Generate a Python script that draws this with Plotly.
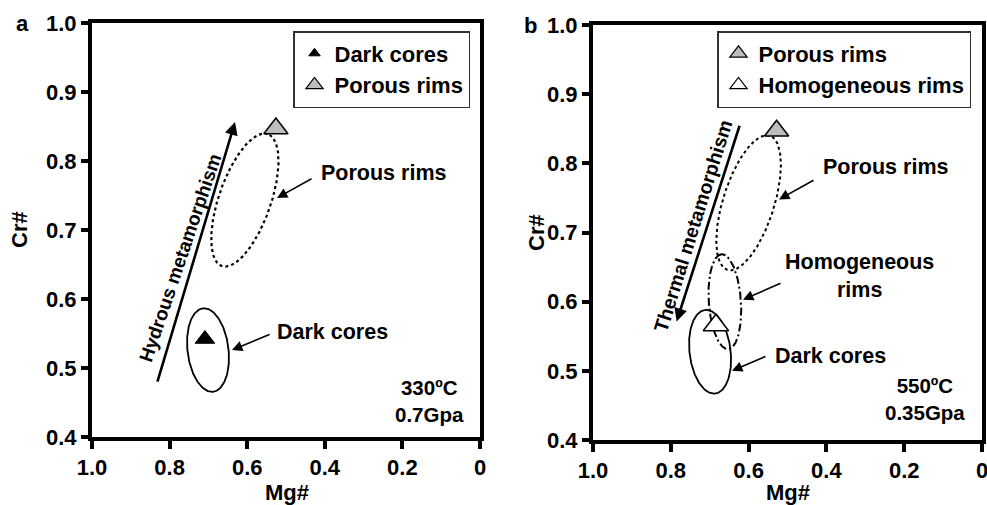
import numpy as np
import plotly.graph_objects as go

W, H = 987, 505
FONT = "Liberation Sans, Arial, Helvetica, sans-serif"

# ---------------- data ----------------
x_ticks = [1.0, 0.8, 0.6, 0.4, 0.2, 0.0]
x_ticklabels = ["1.0", "0.8", "0.6", "0.4", "0.2", "0"]
y_ticks = [0.4, 0.5, 0.6, 0.7, 0.8, 0.9, 1.0]
y_ticklabels = ["0.4", "0.5", "0.6", "0.7", "0.8", "0.9", "1.0"]

# panel a points (Mg#, Cr#)
a_dark_mg = [0.709]
a_dark_cr = [0.542]
a_porous_mg = [0.526]
a_porous_cr = [0.847]

# panel b points
b_porous_mg = [0.528]
b_porous_cr = [0.847]
b_homog_mg = [0.684]
b_homog_cr = [0.566]

# compositional fields (ellipses): centre Mg#, centre Cr#, semi-axes (Cr# units), tilt (deg)
a_field_names = ["Porous rims", "Dark cores"]
a_field_mg = [0.606, 0.701]
a_field_cr = [0.7435, 0.526]
a_field_a = [0.1013, 0.0609]
a_field_b = [0.0377, 0.0297]
a_field_tilt = [70.8, 97.0]
a_field_dash = ["dot", "solid"]

b_field_names = ["Porous rims", "Homogeneous rims", "Dark cores"]
b_field_mg = [0.600, 0.661, 0.699]
b_field_cr = [0.743, 0.600, 0.5275]
b_field_a = [0.1017, 0.0688, 0.0609]
b_field_b = [0.037, 0.0232, 0.0297]
b_field_tilt = [72.5, 94.0, 97.0]
b_field_dash = ["dot", "8px,3px,2px,3px", "solid"]

# metamorphism arrows: tail (Mg#, Cr#) -> head (Mg#, Cr#)
a_trend_tail = [0.8325, 0.478]
a_trend_head = [0.6314, 0.8565]
a_trend_label = "Hydrous metamorphism"
a_trend_label_pos = [0.772, 0.660]
b_trend_tail = [0.622, 0.8565]
b_trend_head = [0.785, 0.5714]
b_trend_label = "Thermal metamorphism"
b_trend_label_pos = [0.744, 0.710]

# labelled callouts: text, text pos, arrow tail, arrow head
a_callout_text = ["Porous rims", "Dark cores"]
a_callout_pos = [[0.250, 0.7826], [0.379, 0.552]]
a_callout_tail = [[0.4304, 0.7754], [0.5387, 0.5493]]
a_callout_head = [[0.5232, 0.7464], [0.6392, 0.526]]

b_callout_text = ["Porous rims", "Homogeneous<br>rims", "Dark cores"]
b_callout_pos = [[0.2468, 0.7942], [0.3162, 0.637], [0.3907, 0.5217]]
b_callout_tail = [[0.4293, 0.7768], [0.5141, 0.6275], [0.5527, 0.5217]]
b_callout_head = [[0.5218, 0.7478], [0.6144, 0.6029], [0.6427, 0.500]]

a_condition = "330ºC<br>0.7Gpa"
a_condition_pos = [0.129, 0.452]
b_condition = "550ºC<br>0.35Gpa"
b_condition_pos = [0.1465, 0.4587]

# ---------------- layout geometry ----------------
XA = [92 / W, 480 / W]
YA = [1 - 437 / H, 1 - 23 / H]
XB = [593 / W, 982 / W]
YB = [1 - 440 / H, 1 - 25 / H]


def aspect(xd, yd):
    px_mg = (xd[1] - xd[0]) * W / 1.0
    px_cr = (yd[1] - yd[0]) * H / 0.6
    return px_cr / px_mg


def ellipse(cmg, ccr, a, b, tilt, k):
    t = np.linspace(0, 2 * np.pi, 240)
    th = np.radians(tilt)
    dX = a * np.cos(t) * np.cos(th) - b * np.sin(t) * np.sin(th)
    dY = a * np.cos(t) * np.sin(th) + b * np.sin(t) * np.cos(th)
    return cmg - dX * k, ccr + dY


fig = go.Figure()

GRAY = "#bdbdbd"

# ----- fields -----
ka = aspect(XA, YA)
for i in range(len(a_field_names)):
    ex, ey = ellipse(a_field_mg[i], a_field_cr[i], a_field_a[i], a_field_b[i], a_field_tilt[i], ka)
    fig.add_trace(go.Scatter(x=ex, y=ey, mode="lines", showlegend=False, hoverinfo="skip",
                             line=dict(color="black", width=1.8 if a_field_dash[i] == "solid" else 2.2,
                                       dash=a_field_dash[i]),
                             xaxis="x", yaxis="y"))

kb = aspect(XB, YB)
for i in range(len(b_field_names)):
    ex, ey = ellipse(b_field_mg[i], b_field_cr[i], b_field_a[i], b_field_b[i], b_field_tilt[i], kb)
    fig.add_trace(go.Scatter(x=ex, y=ey, mode="lines", showlegend=False, hoverinfo="skip",
                             line=dict(color="black", width=1.8 if b_field_dash[i] == "solid" else 2.0,
                                       dash=b_field_dash[i]),
                             xaxis="x2", yaxis="y2"))

# ----- points -----
fig.add_trace(go.Scatter(x=a_dark_mg, y=a_dark_cr, mode="markers", showlegend=False,
                         marker=dict(symbol="triangle-up", size=17, color="black",
                                     line=dict(color="black", width=1)),
                         xaxis="x", yaxis="y"))
fig.add_trace(go.Scatter(x=a_porous_mg, y=a_porous_cr, mode="markers", showlegend=False,
                         marker=dict(symbol="triangle-up", size=21, color=GRAY,
                                     line=dict(color="black", width=1.5)),
                         xaxis="x", yaxis="y"))
fig.add_trace(go.Scatter(x=b_porous_mg, y=b_porous_cr, mode="markers", showlegend=False,
                         marker=dict(symbol="triangle-up", size=21, color=GRAY,
                                     line=dict(color="black", width=1.5)),
                         xaxis="x2", yaxis="y2"))
fig.add_trace(go.Scatter(x=b_homog_mg, y=b_homog_cr, mode="markers", showlegend=False,
                         marker=dict(symbol="triangle-up", size=22, color="white",
                                     line=dict(color="black", width=1.5)),
                         xaxis="x2", yaxis="y2"))

# ----- legend entries -----
fig.add_trace(go.Scatter(x=[None], y=[None], mode="markers", name="Dark cores", legend="legend",
                         marker=dict(symbol="triangle-up", size=10, color="black",
                                     line=dict(color="black", width=1)),
                         xaxis="x", yaxis="y"))
fig.add_trace(go.Scatter(x=[None], y=[None], mode="markers", name="Porous rims", legend="legend",
                         marker=dict(symbol="triangle-up", size=15, color=GRAY,
                                     line=dict(color="black", width=1.2)),
                         xaxis="x", yaxis="y"))
fig.add_trace(go.Scatter(x=[None], y=[None], mode="markers", name="Porous rims", legend="legend2",
                         marker=dict(symbol="triangle-up", size=15, color=GRAY,
                                     line=dict(color="black", width=1.2)),
                         xaxis="x2", yaxis="y2"))
fig.add_trace(go.Scatter(x=[None], y=[None], mode="markers", name="Homogeneous rims", legend="legend2",
                         marker=dict(symbol="triangle-up", size=15, color="white",
                                     line=dict(color="black", width=1.2)),
                         xaxis="x2", yaxis="y2"))

# ----- annotations -----
ann = []


def add_text(text, pos, xr, yr, size=21, angle=0):
    ann.append(dict(text=text, x=pos[0], y=pos[1], xref=xr, yref=yr, showarrow=False,
                    textangle=angle, font=dict(size=size, color="black", family=FONT, weight="bold"),
                    xanchor="center", yanchor="middle"))


def add_arrow(tail, head, xr, yr, width=1.6, size=1.3):
    ann.append(dict(text="", x=head[0], y=head[1], ax=tail[0], ay=tail[1],
                    xref=xr, yref=yr, axref=xr, ayref=yr, showarrow=True,
                    arrowhead=2, arrowsize=size, arrowwidth=width, arrowcolor="black",
                    standoff=0, startstandoff=0))


# panel a
for i in range(len(a_callout_text)):
    add_text(a_callout_text[i], a_callout_pos[i], "x", "y", size=21.5)
    add_arrow(a_callout_tail[i], a_callout_head[i], "x", "y")
add_text(a_condition, a_condition_pos, "x", "y", size=20.5)
add_arrow(a_trend_tail, a_trend_head, "x", "y", width=2.6, size=1.0)
add_text(a_trend_label, a_trend_label_pos, "x", "y", size=19, angle=-71.2)

# panel b
for i in range(len(b_callout_text)):
    add_text(b_callout_text[i], b_callout_pos[i], "x2", "y2", size=21.5)
    add_arrow(b_callout_tail[i], b_callout_head[i], "x2", "y2")
add_text(b_condition, b_condition_pos, "x2", "y2", size=20.5)
add_arrow(b_trend_tail, b_trend_head, "x2", "y2", width=2.6, size=1.0)
add_text(b_trend_label, b_trend_label_pos, "x2", "y2", size=19.5, angle=-72.6)

# panel letters and axis titles
for txt, px, py, ang in [("a", 22, 23, 0), ("b", 530, 25, 0),
                         ("Cr#", 20, 230, -90), ("Cr#", 537, 233, -90),
                         ("Mg#", 287, 492, 0), ("Mg#", 788, 492, 0)]:
    ann.append(dict(text=txt, x=px / W, y=1 - py / H, xref="paper", yref="paper", showarrow=False,
                    textangle=ang, xanchor="center", yanchor="middle",
                    font=dict(size=22, color="black", family=FONT, weight="bold")))

xcommon = dict(range=[1.0, 0.0], tickmode="array", tickvals=x_ticks, ticktext=x_ticklabels,
               showline=True, linecolor="black", linewidth=4, mirror=True,
               ticks="outside", ticklen=8, tickwidth=3.5, tickcolor="black",
               showgrid=False, zeroline=False, automargin=False, ticklabeloverflow="allow",
               tickfont=dict(size=22, color="black", family=FONT, weight="bold"))
ycommon = dict(range=[0.4, 1.0], tickmode="array", tickvals=y_ticks, ticktext=y_ticklabels,
               showline=True, linecolor="black", linewidth=4, mirror=True,
               ticks="outside", ticklen=7, tickwidth=3.5, tickcolor="black",
               showgrid=False, zeroline=False, automargin=False, ticklabeloverflow="allow",
               tickfont=dict(size=22, color="black", family=FONT, weight="bold"))

legend_common = dict(bgcolor="white", bordercolor="#333333", borderwidth=1.5,
                     font=dict(size=22, color="black", family=FONT, weight="bold"),
                     xanchor="left", yanchor="top", tracegroupgap=0, itemclick=False)

fig.update_layout(
    width=W, height=H,
    margin=dict(l=0, r=0, t=0, b=0),
    paper_bgcolor="white", plot_bgcolor="white",
    font=dict(family=FONT, color="black", weight="bold"),
    xaxis=dict(domain=XA, anchor="y", **xcommon),
    yaxis=dict(domain=YA, anchor="x", **ycommon),
    xaxis2=dict(domain=XB, anchor="y2", **xcommon),
    yaxis2=dict(domain=YB, anchor="x2", **ycommon),
    legend=dict(x=293 / W, y=1 - 31 / H, **legend_common),
    legend2=dict(x=717 / W, y=1 - 31 / H, **legend_common),
    annotations=ann,
    showlegend=True,
)

fig.write_html("out.html")
